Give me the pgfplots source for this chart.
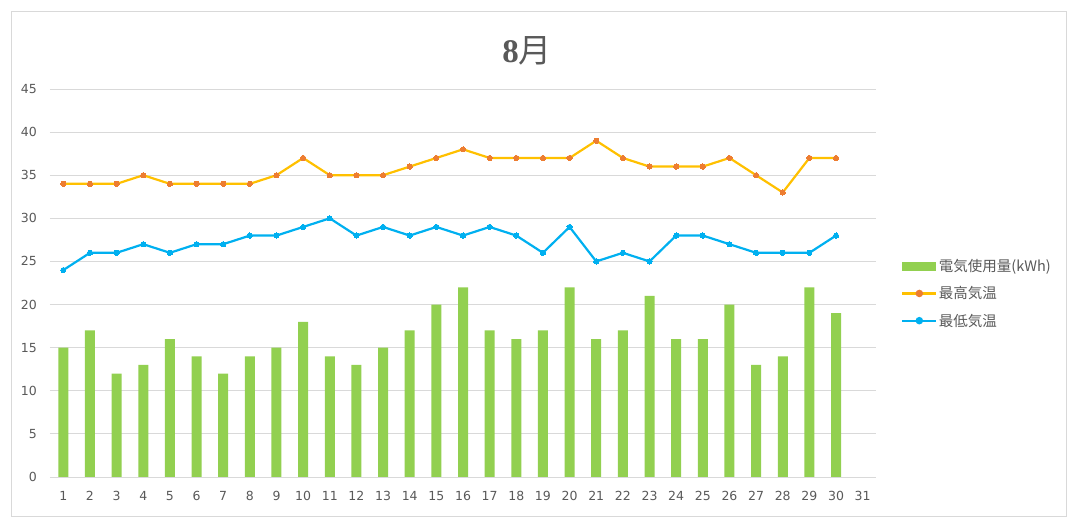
\documentclass[border=0pt]{standalone}
\usepackage{fontspec}
\setmainfont{Noto Sans CJK JP}
\newfontfamily\tickfont{DejaVu Sans}
\newfontfamily\titleserif{Liberation Serif}
\usepackage{pgfplots}
\usepackage{pgfplotstable}
\pgfplotsset{compat=1.18}
\definecolor{txt}{HTML}{595959}
\definecolor{gridc}{HTML}{D9D9D9}
\definecolor{barg}{HTML}{92D050}
\definecolor{goldl}{HTML}{FFC000}
\definecolor{orangem}{HTML}{ED7D31}
\definecolor{bluel}{HTML}{00B0F0}
\pgfplotstableread{
day use hi lo
1 15 34 24
2 17 34 26
3 12 34 26
4 13 35 27
5 16 34 26
6 14 34 27
7 12 34 27
8 14 34 28
9 15 35 28
10 18 37 29
11 14 35 30
12 13 35 28
13 15 35 29
14 17 36 28
15 20 37 29
16 22 38 28
17 17 37 29
18 16 37 28
19 17 37 26
20 22 37 29
21 16 39 25
22 17 37 26
23 21 36 25
24 16 36 28
25 16 36 28
26 20 37 27
27 13 35 26
28 14 33 26
29 22 37 26
30 19 37 28
}\data
\begin{document}
\begin{tikzpicture}
\useasboundingbox (0pt,0pt) rectangle (1075pt,526pt);
\draw[gridc, line width=0.8pt] (11.5pt,10pt) rectangle (1066pt,514.5pt);
\node[txt, anchor=center, font=\fontsize{33}{36}\selectfont] at (527pt,475.5pt) {{\titleserif\bfseries 8}月};
\begin{axis}[
  at={(50pt,49pt)}, anchor=south west,
  scale only axis, width=826pt, height=388pt,
  xmin=0.5, xmax=31.5, ymin=0, ymax=45,
  xtick={1,...,31}, ytick={0,5,...,45},
  axis line style={draw=none},
  major tick length=0pt,
  ymajorgrids, grid style={gridc, line width=0.8pt},
  /pgf/number format/assume math mode=true,
  ticklabel style={font=\tickfont\fontsize{12.5}{14}\selectfont, text=txt},
  xticklabel style={anchor=base, inner sep=0pt, yshift=-24pt},
  yticklabel style={anchor=east, inner sep=0pt, xshift=-13pt},
  legend style={at={(1.0303,0.473)}, anchor=west, draw=none, fill=none,
    inner sep=0pt, font=\fontsize{14.5}{16}\selectfont, text=txt,
    row sep=10.5pt, nodes={inner sep=1.5pt}},
  legend cell align=left,
]
\addplot[ybar, bar width=10pt, fill=barg, draw=none,
  legend image code/.code={\fill[barg] (0pt,-4.5pt) rectangle (34pt,4.5pt);}]
  table[x=day, y=use]{\data};
\addlegendentry{電気使用量(kWh)}
\addplot[goldl, line width=2.2pt, mark=*, mark size=2.6pt, mark options={fill=orangem, draw=orangem, line width=0pt},
  legend image code/.code={\draw[goldl, line width=2.2pt] (0pt,0pt) -- (34pt,0pt); \fill[orangem] (17pt,0pt) circle (2.6pt);}]
  table[x=day, y=hi]{\data};
\addlegendentry{最高気温}
\addplot[bluel, line width=2.2pt, mark=*, mark size=2.6pt, mark options={fill=bluel, draw=bluel, line width=0pt},
  legend image code/.code={\draw[bluel, line width=2.2pt] (0pt,0pt) -- (34pt,0pt); \fill[bluel] (17pt,0pt) circle (2.6pt);}]
  table[x=day, y=lo]{\data};
\addlegendentry{最低気温}
\end{axis}
\end{tikzpicture}
\end{document}
